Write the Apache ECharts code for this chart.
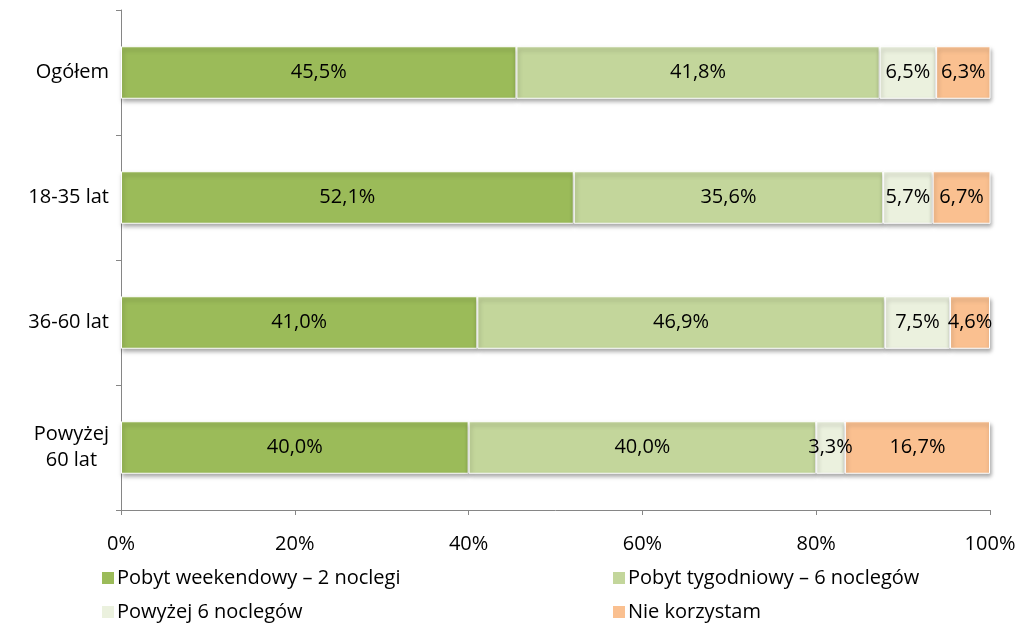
<!DOCTYPE html>
<html>
<head>
<meta charset="utf-8">
<script src="https://cdn.jsdelivr.net/npm/echarts@6/dist/echarts.min.js"></script>
<style>
  html, body { margin: 0; padding: 0; background: #fff; }
  #chart { width: 1020px; height: 628px; }
</style>
</head>
<body>
<div id="chart"></div>
<script>
// Age groups (top to bottom)
const categories = ['Ogółem', '18-35 lat', '36-60 lat', 'Powyżej\n60 lat'];

// Series names
const seriesNames = [
  'Pobyt weekendowy – 2 noclegi',
  'Pobyt tygodniowy – 6 noclegów',
  'Powyżej 6 noclegów',
  'Nie korzystam'
];

// Shares in percent, per age group
const weekend  = [45.5, 52.1, 41.0, 40.0];
const weekly   = [41.8, 35.6, 46.9, 40.0];
const longer   = [6.5, 5.7, 7.5, 3.3];
const notUsing = [6.3, 6.7, 4.6, 16.7];

const xTicks = [0, 20, 40, 60, 80, 100];

const colors = ['#9BBB59', '#C3D69B', '#EBF1DE', '#FAC090'];
const FONT = '"Open Sans", Lato, sans-serif';
const FS = 20;

const fmtPct = v => v.toFixed(1).replace('.', ',') + '%';

const seriesData = [weekend, weekly, longer, notUsing];

const series = seriesData.map((vals, i) => ({
  name: seriesNames[i],
  type: 'bar',
  stack: 'total',
  barWidth: '42%',
  data: vals,
  itemStyle: {
    color: colors[i],
    borderColor: '#ffffff',
    borderWidth: 1,
    shadowColor: 'rgba(0,0,0,0.35)',
    shadowBlur: 4,
    shadowOffsetX: 1,
    shadowOffsetY: 3
  },
  label: {
    show: true,
    position: 'inside',
    color: '#000',
    fontFamily: FONT,
    fontSize: FS,
    formatter: p => fmtPct(p.value)
  },
  emphasis: { disabled: true }
}));

const legendText = { fontFamily: FONT, fontSize: FS, color: '#000', padding: [0, 0, 0, -3] };

const chart = echarts.init(document.getElementById('chart'), null, { renderer: 'canvas' });

chart.setOption({
  animation: false,
  color: colors,
  grid: { left: 121, right: 30, top: 10, bottom: 118, containLabel: false },
  xAxis: {
    type: 'value',
    min: 0,
    max: 100,
    interval: 20,
    axisLine: { show: true, lineStyle: { color: '#868686', width: 1 } },
    axisTick: { show: true, length: 5, lineStyle: { color: '#868686' } },
    splitLine: { show: false },
    axisLabel: {
      color: '#000',
      fontFamily: FONT,
      fontSize: FS,
      margin: 24,
      formatter: v => xTicks.includes(v) ? v + '%' : ''
    }
  },
  yAxis: {
    type: 'category',
    data: categories,
    inverse: true,
    axisLine: { show: true, lineStyle: { color: '#868686', width: 1 } },
    axisTick: { show: true, length: 5, lineStyle: { color: '#868686' } },
    axisLabel: {
      color: '#000',
      fontFamily: FONT,
      fontSize: FS,
      margin: 12,
      lineHeight: 26,
      formatter: v => v.split('\n').map(s => '{c|' + s + '}').join('\n'),
      rich: { c: { align: 'center', fontFamily: FONT, fontSize: FS, color: '#000', lineHeight: 26 } }
    }
  },
  legend: [
    {
      data: [seriesNames[0], seriesNames[2]],
      orient: 'vertical',
      left: 95,
      top: 563,
      itemWidth: 14,
      itemHeight: 14,
      itemGap: 14,
      icon: 'rect',
      textStyle: legendText,
      selectedMode: false
    },
    {
      data: [seriesNames[1], seriesNames[3]],
      orient: 'vertical',
      left: 606,
      top: 563,
      itemWidth: 14,
      itemHeight: 14,
      itemGap: 14,
      icon: 'rect',
      textStyle: legendText,
      selectedMode: false
    }
  ],
  series: series
});
</script>
</body>
</html>
